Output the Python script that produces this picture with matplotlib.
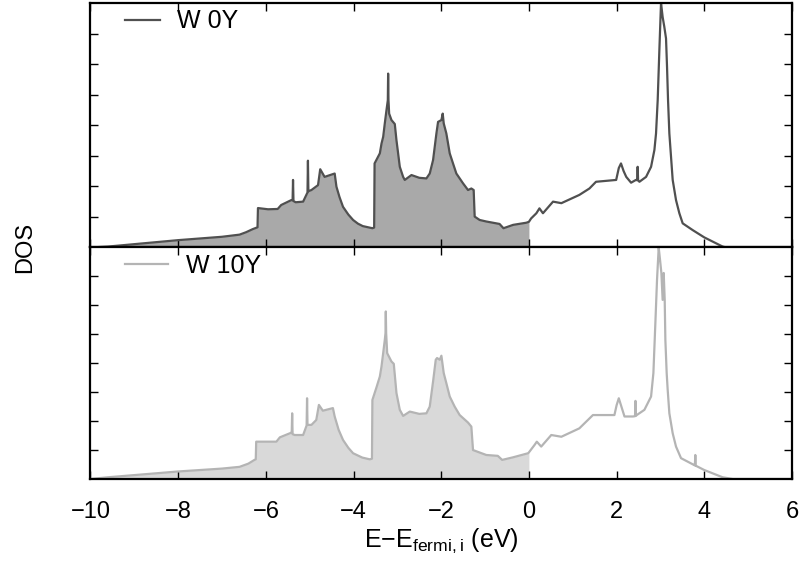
import matplotlib
matplotlib.use("Agg")
import matplotlib.pyplot as plt
import numpy as np

plt.rcParams['font.family'] = ['Liberation Sans', 'DejaVu Sans']
plt.rcParams['mathtext.fontset'] = 'custom'
plt.rcParams['mathtext.rm'] = 'Liberation Sans'

# W 0Y density of states
e_0y = [-10.0, -9.6, -8.0, -7.0, -6.6, -6.45, -6.3, -6.19, -6.18, -5.95, -5.73, -5.65,
        -5.42, -5.39, -5.38, -5.37, -5.32, -5.15, -5.05, -5.04, -5.03, -4.96, -4.81,
        -4.76, -4.66, -4.43, -4.39, -4.32, -4.24, -4.12, -4.01, -3.90, -3.79, -3.57,
        -3.53, -3.52, -3.400, -3.362, -3.324, -3.287, -3.249, -3.218, -3.211, -3.203,
        -3.188, -3.135, -3.059, -3.021, -2.983, -2.945, -2.869, -2.831, -2.679, -2.50,
        -2.338, -2.262, -2.186, -2.110, -2.072, -1.996, -1.966, -1.943, -1.883, -1.806,
        -1.731, -1.655, -1.503, -1.389, -1.313, -1.260, -1.237, -1.123, -0.972, -0.67,
        -0.58, -0.36, -0.06, 0.0, 0.05, 0.17, 0.24, 0.32, 0.55, 0.74, 1.15, 1.38, 1.53,
        1.99, 2.05, 2.10, 2.16, 2.22, 2.33, 2.44, 2.47, 2.48, 2.49, 2.52, 2.672, 2.786,
        2.862, 2.899, 2.937, 2.975, 3.013, 3.050, 3.088, 3.127, 3.150, 3.173, 3.203,
        3.241, 3.279, 3.355, 3.431, 3.507, 3.734, 4.000, 4.418, 4.5, 6.0]
dos_0y = [0.0, 0.03, 0.24, 0.35, 0.42, 0.50, 0.60, 0.66, 1.29, 1.25, 1.26, 1.39,
          1.55, 1.55, 2.21, 1.52, 1.48, 1.50, 1.80, 2.84, 1.84, 1.88, 2.04,
          2.56, 2.31, 2.42, 1.99, 1.65, 1.33, 1.08, 0.90, 0.78, 0.70, 0.63,
          0.65, 2.75, 3.08, 3.40, 3.62, 4.06, 4.49, 4.82, 5.69, 4.82,
          4.38, 4.17, 4.04, 3.51, 3.08, 2.64, 2.31, 2.21, 2.37, 2.28,
          2.26, 2.42, 2.86, 3.73, 4.11, 4.17, 4.38, 4.06, 3.73, 3.08,
          2.75, 2.42, 2.10, 1.88, 1.93, 1.88, 1.01, 0.90, 0.85, 0.77,
          0.63, 0.74, 0.81, 0.84, 0.95, 1.12, 1.28, 1.12, 1.50, 1.45, 1.72, 1.93, 2.15,
          2.21, 2.60, 2.75, 2.50, 2.31, 2.12, 2.21, 2.20, 2.64, 2.20, 2.15, 2.31, 2.64,
          3.19, 3.73, 4.82, 6.45, 8.0, 7.54, 7.22, 6.84, 5.91, 4.82, 3.73,
          2.97, 2.21, 1.55, 1.12, 0.79, 0.57, 0.33, 0.03, 0.0, 0.0]

# W 10Y density of states
e_10y = [-10.0, -9.6, -8.0, -7.0, -6.6, -6.4, -6.26, -6.23, -6.22, -5.76, -5.68, -5.42,
         -5.41, -5.40, -5.39, -5.34, -5.15, -5.07, -5.06, -5.05, -4.96, -4.85, -4.79,
         -4.70, -4.47, -4.43, -4.34, -4.24, -4.12, -4.01, -3.80, -3.63, -3.58, -3.57,
         -3.48, -3.400, -3.362, -3.324, -3.287, -3.271, -3.264, -3.256, -3.233, -3.135,
         -3.082, -3.021, -2.945, -2.869, -2.717, -2.50, -2.338, -2.262, -2.186, -2.125,
         -2.095, -2.034, -1.996, -1.943, -1.883, -1.806, -1.693, -1.579, -1.389, -1.313,
         -1.275, -0.972, -0.71, -0.61, -0.36, -0.02, 0.0, 0.13, 0.18, 0.28, 0.51, 0.74,
         1.15, 1.46, 1.95, 2.00, 2.05, 2.12, 2.18, 2.37, 2.42, 2.43, 2.44, 2.46, 2.634,
         2.786, 2.839, 2.884, 2.922, 2.960, 2.990, 3.021, 3.050, 3.074, 3.097, 3.112,
         3.142, 3.165, 3.203, 3.279, 3.355, 3.469, 3.772, 3.785, 3.795, 3.805, 4.000,
         4.418, 4.65, 6.0]
dos_10y = [0.0, 0.06, 0.26, 0.36, 0.42, 0.53, 0.66, 0.68, 1.29, 1.29, 1.44, 1.60,
           1.60, 2.27, 1.55, 1.52, 1.52, 1.85, 2.79, 1.87, 1.87, 2.04, 2.56,
           2.36, 2.45, 2.16, 1.70, 1.35, 1.08, 0.89, 0.74, 0.68, 0.70, 2.73,
           3.15, 3.54, 3.89, 4.35, 4.81, 5.04, 5.79, 5.04, 4.35, 4.06,
           3.98, 2.97, 2.39, 2.18, 2.33, 2.25, 2.27, 2.50, 3.37, 4.12,
           4.18, 4.12, 4.26, 3.66, 3.31, 2.85, 2.50, 2.21, 1.95, 1.81,
           1.00, 0.83, 0.80, 0.66, 0.75, 0.89, 0.92, 1.18, 1.29, 1.12, 1.52, 1.46,
           1.75, 2.21, 2.21, 2.55, 2.79, 2.45, 2.16, 2.16, 2.17, 2.70, 2.18, 2.21, 2.39,
           2.85, 3.66, 5.39, 6.89, 8.0, 7.58, 7.12, 6.19, 7.12, 6.19, 4.81,
           3.66, 3.08, 2.27, 1.58, 1.12, 0.72, 0.48, 0.47, 0.83, 0.46, 0.31,
           0.06, 0.0, 0.0]

x_ticks = [-10, -8, -6, -4, -2, 0, 2, 4, 6]
x_labels = ["\u221210", "\u22128", "\u22126", "\u22124", "\u22122", "0", "2", "4", "6"]

series = [("W 0Y", e_0y, dos_0y, "#505050", "#a9a9a9", 1.4),
          ("W 10Y", e_10y, dos_10y, "#b4b4b4", "#d9d9d9", 1.75)]

fig = plt.figure(figsize=(8.07, 5.64), dpi=100)
ax_top = fig.add_axes([0.1121, 0.5612, 0.8693, 0.4335])
ax_bot = fig.add_axes([0.1121, 0.1507, 0.8693, 0.4105])

for ax, (name, e, d, lc, fc, hl) in zip([ax_top, ax_bot], series):
    e = np.array(e)
    d = np.array(d)
    occ = e <= 0
    ax.fill_between(e[occ], 0, d[occ], color=fc, lw=0)
    ax.plot(e, d, color=lc, lw=1.6, label=name)
    ax.set_xlim(-10, 6)
    ax.set_ylim(0, 8)
    ax.set_xticks(x_ticks)
    ax.set_yticks(range(1, 8))
    ax.set_yticklabels([])
    ax.tick_params(direction="in", top=True, right=True, length=6, width=1,
                   labelsize=17, pad=15.5)
    for s in ax.spines.values():
        s.set_linewidth(1.6)
    ax.legend(loc="upper left", frameon=False, fontsize=18, handlelength=hl,
              handletextpad=0.7, borderaxespad=0.1, bbox_to_anchor=(0.031, 1.025))

ax_top.set_xticklabels([])
ax_bot.set_xticklabels(x_labels)
ax_bot.set_xlabel("E\u2212E$_{\\rm fermi,i}$ (eV)", fontsize=18, labelpad=3)
fig.text(0.031, 1 - 247 / 564, "DOS", rotation=90, fontsize=17,
         ha="center", va="center")

plt.savefig("out.png", dpi=100)
